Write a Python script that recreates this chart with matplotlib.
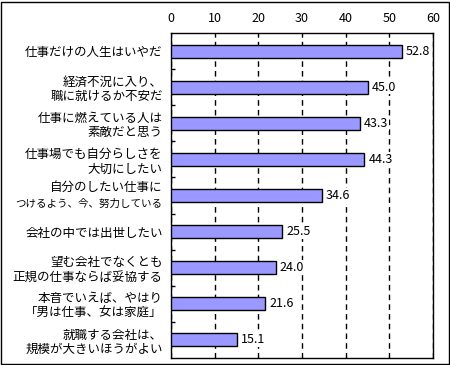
import numpy as np
import matplotlib
matplotlib.use('Agg')
import matplotlib.pyplot as plt
import matplotlib.transforms as mtransforms
from matplotlib.patches import Rectangle

# data
labels = ['仕事だけの人生はいやだ',
          '経済不況に入り、\n職に就けるか不安だ',
          '仕事に燃えている人は\n素敵だと思う',
          '仕事場でも自分らしさを\n大切にしたい',
          '自分のしたい仕事に\nつけるよう、今、努力している',
          '会社の中では出世したい',
          '望む会社でなくとも\n正規の仕事ならば妥協する',
          '本音でいえば、やはり\n「男は仕事、女は家庭」',
          '就職する会社は、\n規模が大きいほうがよい']
values = [52.8, 45.0, 43.3, 44.3, 34.6, 25.5, 24.0, 21.6, 15.1]
xticks = [0, 10, 20, 30, 40, 50, 60]
long_label = 4  # this one is narrower in the original font

plt.rcParams['font.family'] = ['Noto Sans CJK JP', 'DejaVu Sans']
plt.rcParams['font.size'] = 9

fig = plt.figure(figsize=(4.5, 3.65), dpi=100)
ax = fig.add_axes([171/450, 1 - 358/365, (433-171)/450, (358-33)/365])

y = np.arange(len(values))
ax.barh(y, values, height=0.36, color='#9999ff', edgecolor='black', linewidth=1, zorder=3)
for yi, v in zip(y, values):
    ax.text(v + 0.9, yi, f'{v:.1f}', va='center', ha='left', fontsize=9, zorder=4,
            bbox=dict(facecolor='white', edgecolor='none', pad=0.5))

ax.set_xlim(0, 60)
ax.set_ylim(len(values) - 0.5, -0.5)
ax.set_xticks(xticks)
ax.xaxis.tick_top()
ax.tick_params(axis='x', length=0, pad=6, labelsize=9)
ax.grid(axis='x', color='black', linestyle=(0, (4, 3)), linewidth=1, zorder=0)

ax.set_yticks(y)
ax.set_yticklabels([l if i != long_label else '' for i, l in enumerate(labels)],
                   linespacing=1.15)
ax.tick_params(axis='y', which='major', length=0, pad=6, labelsize=9)
ax.set_yticks(y[:-1] + 0.5, minor=True)
ax.tick_params(axis='y', which='minor', direction='in', length=3, width=1)

# draw the long label line by line, second line smaller so it fits
line1, line2 = labels[long_label].split('\n')
trans = ax.get_yaxis_transform()
off1 = mtransforms.ScaledTranslation(-6/72, 6/72, fig.dpi_scale_trans)
off2 = mtransforms.ScaledTranslation(-6/72, -6/72, fig.dpi_scale_trans)
ax.text(0, long_label, line1, transform=trans + off1, ha='right', va='center', fontsize=9)
ax.text(0, long_label, line2, transform=trans + off2, ha='right', va='center', fontsize=7.6)

for s in ax.spines.values():
    s.set_linewidth(1)
    s.set_color('black')

# outer frame
fig.patches.append(Rectangle((1/450, 1/365), 448/450, 362/365, transform=fig.transFigure,
                             fill=False, edgecolor='black', linewidth=1))

fig.savefig('out.png', dpi=100)
